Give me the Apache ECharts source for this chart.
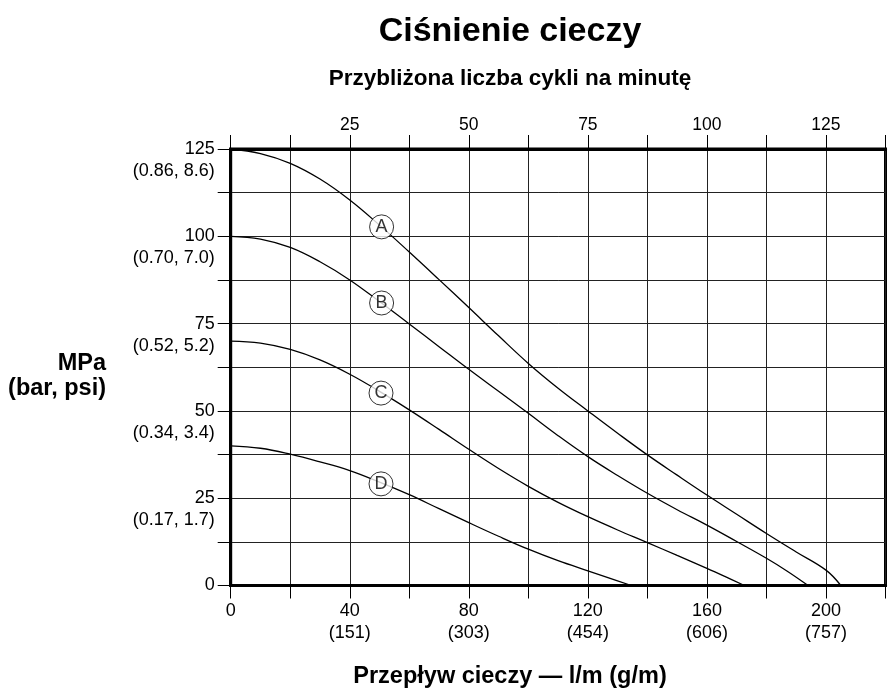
<!DOCTYPE html>
<html>
<head>
<meta charset="utf-8">
<script src="https://cdn.jsdelivr.net/npm/echarts@6/dist/echarts.min.js"></script>
<style>html,body{margin:0;padding:0;background:#fff}#c{width:889px;height:691px}</style>
</head>
<body>
<div id="c"></div>
<script>
// ---- data ----
const titleText = 'Ciśnienie cieczy';
const subtitleText = 'Przybliżona liczba cykli na minutę';
const xNameText = 'Przepływ cieczy — l/m (g/m)';
const yNameLines = ['MPa', '(bar, psi)'];

const xMin = 0, xMax = 220, xStep = 20;
const yMin = 0, yMax = 125, yStep = 12.5;

// bottom tick labels: flow l/m -> (g/m)
const bottomTicks = [0, 40, 80, 120, 160, 200];
const bottomSub = ['', '(151)', '(303)', '(454)', '(606)', '(757)'];
// top tick labels: cycles per minute
const topTicksFlow = [40, 80, 120, 160, 200];
const topTicksText = ['25', '50', '75', '100', '125'];
// left tick labels
const leftTicks = [0, 25, 50, 75, 100, 125];
const leftSub = ['', '(0.17, 1.7)', '(0.34, 3.4)', '(0.52, 5.2)', '(0.70, 7.0)', '(0.86, 8.6)'];

const flowA = [0, 10, 20, 30, 40, 50, 60, 70, 80, 90, 100, 110, 120, 130, 140, 150, 160, 170, 180, 190, 200, 205];
const presA = [125, 123.7, 120.9, 116.4, 110.4, 103.2, 95.5, 87.6, 79.6, 71.5, 63.6, 56.5, 50.0, 43.6, 37.4, 31.6, 25.9, 20.4, 14.9, 9.6, 4.4, 0];

const flowB = [0, 10, 20, 30, 40, 50, 60, 70, 80, 90, 100, 110, 120, 130, 140, 150, 160, 170, 180, 187, 194];
const presB = [100, 99.2, 96.8, 92.7, 87.5, 81.3, 74.9, 68.4, 61.9, 55.6, 49.3, 42.9, 36.9, 31.5, 26.4, 21.7, 17.3, 12.6, 7.8, 4.1, 0];

const flowC = [0, 10, 20, 30, 40, 50, 60, 70, 80, 90, 100, 110, 120, 130, 140, 150, 160, 166, 172.6];
const presC = [70, 69.4, 67.6, 64.6, 60.5, 55.6, 50.3, 44.7, 39.0, 33.5, 28.4, 23.8, 19.7, 15.9, 12.3, 8.6, 4.9, 2.6, 0];

const flowD = [0, 10, 20, 30, 40, 50, 60, 70, 80, 90, 100, 110, 120, 127, 134.6];
const presD = [40, 39.3, 37.6, 35.4, 32.9, 29.6, 26.0, 22.0, 18.0, 14.1, 10.4, 7.1, 4.2, 2.2, 0];

const markerLetters = ['A', 'B', 'C', 'D'];
const markerFlow = [50.7, 50.7, 50.5, 50.5];
const markerPres = [102.7, 80.9, 55.1, 29.1];

// ---- chart ----
const FONT = '"Liberation Sans", Arial, Helvetica, sans-serif';
const zip = (xs, ys) => xs.map((x, i) => [x, ys[i]]);
const curves = [zip(flowA, presA), zip(flowB, presB), zip(flowC, presC), zip(flowD, presD)];

const chart = echarts.init(document.getElementById('c'), null, {renderer: 'canvas'});

const lineSeries = curves.map((d, i) => ({
  type: 'line',
  name: markerLetters[i],
  data: d,
  smooth: 0.4,
  showSymbol: false,
  symbol: 'none',
  lineStyle: {color: '#000', width: 1.3},
  z: 3,
  silent: true
}));

const option = {
  animation: false,
  backgroundColor: '#fff',
  textStyle: {fontFamily: FONT, color: '#000'},
  grid: {
    left: 230.7, right: 3.5, top: 149, bottom: 105.5,
    containLabel: false,
    outerBoundsMode: 'none',
    show: true, borderColor: '#000', borderWidth: 3, backgroundColor: 'transparent'
  },
  xAxis: [{
    type: 'value', position: 'bottom',
    min: xMin, max: xMax, interval: xStep,
    axisLine: {show: true, onZero: false, lineStyle: {color: '#000', width: 3}},
    axisTick: {show: true, inside: false, length: 13, lineStyle: {color: '#000', width: 1}},
    axisLabel: {
      show: true, margin: 15, color: '#000', fontFamily: FONT, fontSize: 18, lineHeight: 22,
      verticalAlign: 'top',
      formatter: v => {
        const k = bottomTicks.indexOf(v);
        if (k < 0) return '';
        return bottomSub[k] ? v + '\n' + bottomSub[k] : String(v);
      }
    },
    splitLine: {show: true, lineStyle: {color: '#222', width: 1}}
  }, {
    type: 'value', position: 'top',
    min: xMin, max: xMax, interval: xStep,
    axisLine: {show: true, onZero: false, lineStyle: {color: '#000', width: 3}},
    axisTick: {show: true, inside: false, length: 14, lineStyle: {color: '#000', width: 1}},
    axisLabel: {
      show: true, margin: 15, color: '#000', fontFamily: FONT, fontSize: 17.5,
      formatter: v => {
        const k = topTicksFlow.indexOf(v);
        return k < 0 ? '' : topTicksText[k];
      }
    },
    splitLine: {show: false}
  }],
  yAxis: [{
    type: 'value', position: 'left',
    min: yMin, max: yMax, interval: yStep,
    axisLine: {show: true, onZero: false, lineStyle: {color: '#000', width: 3}},
    axisTick: {show: true, inside: false, length: 13, lineStyle: {color: '#000', width: 1}},
    axisLabel: {
      show: true, margin: 16, color: '#000', fontFamily: FONT, fontSize: 18, lineHeight: 22,
      align: 'right',
      formatter: v => {
        const k = leftTicks.indexOf(v);
        if (k < 0) return '';
        return leftSub[k] ? ' \n' + v + '\n' + leftSub[k] : String(v);
      }
    },
    splitLine: {show: true, lineStyle: {color: '#222', width: 1}}
  }],
  series: lineSeries.concat([{
    type: 'scatter',
    data: markerFlow.map((x, i) => ({value: [x, markerPres[i]], name: markerLetters[i]})),
    symbol: 'circle',
    symbolSize: 24,
    itemStyle: {color: '#fff', borderColor: '#000', borderWidth: 1},
    label: {
      show: true, position: 'inside', formatter: p => p.name,
      color: '#000', fontFamily: FONT, fontSize: 18
    },
    z: 5,
    silent: true
  }]),
  graphic: [
    {type: 'text', x: 510, y: 32, style: {text: titleText, font: 'bold 34px ' + FONT, fill: '#000', align: 'center', verticalAlign: 'middle'}},
    {type: 'text', x: 510, y: 79, style: {text: subtitleText, font: 'bold 22.5px ' + FONT, fill: '#000', align: 'center', verticalAlign: 'middle'}},
    {type: 'text', x: 510, y: 677, style: {text: xNameText, font: 'bold 23.5px ' + FONT, fill: '#000', align: 'center', verticalAlign: 'middle'}},
    {type: 'text', x: 106, y: 364, style: {text: yNameLines[0], font: 'bold 23.5px ' + FONT, fill: '#000', align: 'right', verticalAlign: 'middle'}},
    {type: 'text', x: 106, y: 389, style: {text: yNameLines[1], font: 'bold 23.5px ' + FONT, fill: '#000', align: 'right', verticalAlign: 'middle'}}
  ]
};
chart.setOption(option);
</script>
</body>
</html>
